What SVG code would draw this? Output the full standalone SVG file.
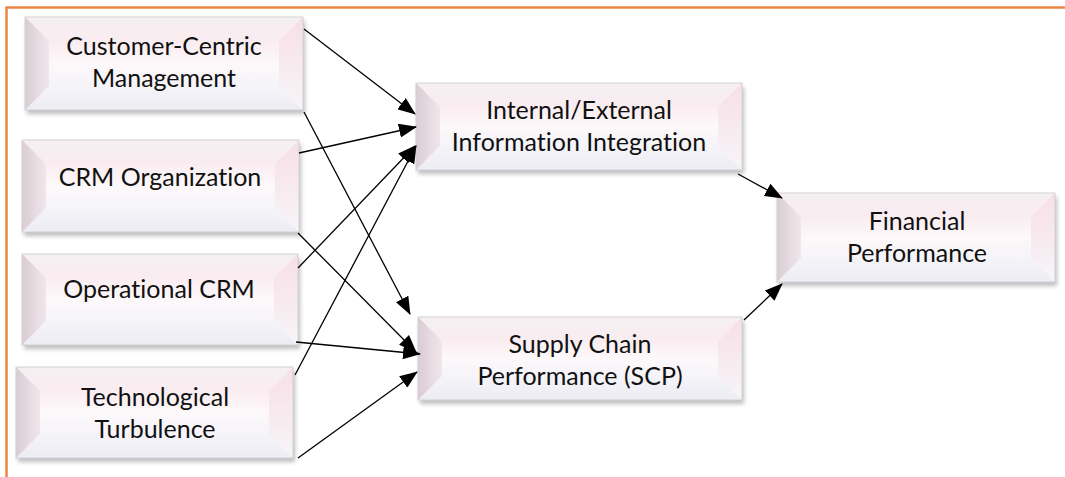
<svg xmlns="http://www.w3.org/2000/svg" width="1065" height="477" viewBox="0 0 1065 477">
  <style>
    .lbl { font-family: Lato, "Liberation Sans", sans-serif; font-size: 25px; fill: #111; text-anchor: middle; font-variant-ligatures: none; }
    .face { fill: url(#faceGrad); }
    .bt { fill: url(#topGrad); }
    .bb { fill: url(#botGrad); }
    .bl { fill: url(#leftGrad); }
    .br { fill: url(#rightGrad); }
    .edge { fill: none; stroke: #d2d2d8; stroke-width: 1; }
    .shadow { fill: #8a8a8a; filter: url(#blur); opacity: 0.55; }
    .conn line { stroke: #000; stroke-width: 1.3; marker-end: url(#arrow); }
  </style>
  <defs>
    <linearGradient id="faceGrad" x1="0" y1="0" x2="0" y2="1">
      <stop offset="0" stop-color="#f9eaef"/>
      <stop offset="0.5" stop-color="#fdf8fa"/>
      <stop offset="1" stop-color="#f3f3f9"/>
    </linearGradient>
    <linearGradient id="topGrad" x1="0" y1="0" x2="0" y2="1">
      <stop offset="0" stop-color="#f5f0f3"/>
      <stop offset="1" stop-color="#f9ecf0"/>
    </linearGradient>
    <linearGradient id="botGrad" x1="0" y1="0" x2="0" y2="1">
      <stop offset="0" stop-color="#f4f4f9"/>
      <stop offset="1" stop-color="#ececf3"/>
    </linearGradient>
    <linearGradient id="leftGrad" x1="0" y1="0" x2="1" y2="0">
      <stop offset="0" stop-color="#d9ccd3"/>
      <stop offset="1" stop-color="#f1e7eb"/>
    </linearGradient>
    <linearGradient id="rightGrad" x1="0" y1="0" x2="0" y2="1">
      <stop offset="0" stop-color="#f7dfe5"/>
      <stop offset="1" stop-color="#f7f5f8"/>
    </linearGradient>
    <filter id="blur" x="-10%" y="-20%" width="120%" height="140%">
      <feGaussianBlur stdDeviation="2"/>
    </filter>
    <marker id="arrow" markerWidth="18" markerHeight="14" refX="17" refY="7" orient="auto" markerUnits="userSpaceOnUse">
      <path d="M0,0 L18,7 L0,14 Z" fill="#000"/>
    </marker>
  </defs>

  <rect x="0" y="0" width="1065" height="477" fill="#fff"/>
  <!-- outer frame -->
  <rect x="6.5" y="7.5" width="1080" height="490" fill="none" stroke="#ed8544" stroke-width="2.5"/>

  <!-- Customer-Centric Management -->
  <g id="customer-centric">
    <rect class="shadow" x="27" y="21" width="278" height="93"/>
    <rect class="face" x="25" y="17" width="278" height="93"/>
    <polygon class="bt" points="25,17 303,17 279,41 49,41"/>
    <polygon class="bb" points="25,110 303,110 279,86 49,86"/>
    <polygon class="bl" points="25,17 49,41 49,86 25,110"/>
    <polygon class="br" points="303,17 279,41 279,86 303,110"/>
    <rect class="face" x="49" y="41" width="230" height="45" opacity="0.6"/>
    <rect class="edge" x="25" y="17" width="278" height="93"/>
    <text class="lbl" x="164" y="55">Customer-Centric</text>
    <text class="lbl" x="164" y="87">Management</text>
  </g>

  <!-- CRM Organization -->
  <g id="crm-organization">
    <rect class="shadow" x="24" y="144" width="277" height="92"/>
    <rect class="face" x="22" y="140" width="277" height="92"/>
    <polygon class="bt" points="22,140 299,140 275,164 46,164"/>
    <polygon class="bb" points="22,232 299,232 275,208 46,208"/>
    <polygon class="bl" points="22,140 46,164 46,208 22,232"/>
    <polygon class="br" points="299,140 275,164 275,208 299,232"/>
    <rect class="face" x="46" y="164" width="229" height="44" opacity="0.6"/>
    <rect class="edge" x="22" y="140" width="277" height="92"/>
    <text class="lbl" x="160" y="186">CRM Organization</text>
  </g>

  <!-- Operational CRM -->
  <g id="operational-crm">
    <rect class="shadow" x="24" y="258" width="276" height="91"/>
    <rect class="face" x="22" y="254" width="276" height="91"/>
    <polygon class="bt" points="22,254 298,254 274,278 46,278"/>
    <polygon class="bb" points="22,345 298,345 274,321 46,321"/>
    <polygon class="bl" points="22,254 46,278 46,321 22,345"/>
    <polygon class="br" points="298,254 274,278 274,321 298,345"/>
    <rect class="face" x="46" y="278" width="228" height="43" opacity="0.6"/>
    <rect class="edge" x="22" y="254" width="276" height="91"/>
    <text class="lbl" x="159" y="298">Operational CRM</text>
  </g>

  <!-- Technological Turbulence -->
  <g id="technological-turbulence">
    <rect class="shadow" x="18" y="371" width="277" height="91"/>
    <rect class="face" x="16" y="367" width="277" height="91"/>
    <polygon class="bt" points="16,367 293,367 269,391 40,391"/>
    <polygon class="bb" points="16,458 293,458 269,434 40,434"/>
    <polygon class="bl" points="16,367 40,391 40,434 16,458"/>
    <polygon class="br" points="293,367 269,391 269,434 293,458"/>
    <rect class="face" x="40" y="391" width="229" height="43" opacity="0.6"/>
    <rect class="edge" x="16" y="367" width="277" height="91"/>
    <text class="lbl" x="155" y="406">Technological</text>
    <text class="lbl" x="155" y="438">Turbulence</text>
  </g>

  <!-- Internal/External Information Integration -->
  <g id="info-integration">
    <rect class="shadow" x="418" y="87" width="326" height="87"/>
    <rect class="face" x="416" y="83" width="326" height="87"/>
    <polygon class="bt" points="416,83 742,83 718,107 440,107"/>
    <polygon class="bb" points="416,170 742,170 718,146 440,146"/>
    <polygon class="bl" points="416,83 440,107 440,146 416,170"/>
    <polygon class="br" points="742,83 718,107 718,146 742,170"/>
    <rect class="face" x="440" y="107" width="278" height="39" opacity="0.6"/>
    <rect class="edge" x="416" y="83" width="326" height="87"/>
    <text class="lbl" x="579" y="119">Internal/External</text>
    <text class="lbl" x="579" y="151">Information Integration</text>
  </g>

  <!-- Supply Chain Performance -->
  <g id="supply-chain">
    <rect class="shadow" x="420" y="321" width="324" height="83"/>
    <rect class="face" x="418" y="317" width="324" height="83"/>
    <polygon class="bt" points="418,317 742,317 718,341 442,341"/>
    <polygon class="bb" points="418,400 742,400 718,376 442,376"/>
    <polygon class="bl" points="418,317 442,341 442,376 418,400"/>
    <polygon class="br" points="742,317 718,341 718,376 742,400"/>
    <rect class="face" x="442" y="341" width="276" height="35" opacity="0.6"/>
    <rect class="edge" x="418" y="317" width="324" height="83"/>
    <text class="lbl" x="580" y="353">Supply Chain</text>
    <text class="lbl" x="580" y="385">Performance (SCP)</text>
  </g>

  <!-- Financial Performance -->
  <g id="financial-performance">
    <rect class="shadow" x="779" y="197" width="278" height="89"/>
    <rect class="face" x="777" y="193" width="278" height="89"/>
    <polygon class="bt" points="777,193 1055,193 1031,217 801,217"/>
    <polygon class="bb" points="777,282 1055,282 1031,258 801,258"/>
    <polygon class="bl" points="777,193 801,217 801,258 777,282"/>
    <polygon class="br" points="1055,193 1031,217 1031,258 1055,282"/>
    <rect class="face" x="801" y="217" width="230" height="41" opacity="0.6"/>
    <rect class="edge" x="777" y="193" width="278" height="89"/>
    <text class="lbl" x="917" y="230">Financial</text>
    <text class="lbl" x="917" y="262">Performance</text>
  </g>

  <!-- connectors -->
  <g id="connectors" class="conn">
    <line x1="304" y1="29" x2="415" y2="114"/>
    <line x1="299" y1="153" x2="416" y2="127"/>
    <line x1="298" y1="268" x2="415" y2="146"/>
    <line x1="295" y1="375" x2="416" y2="146"/>
    <line x1="304" y1="112" x2="410" y2="314"/>
    <line x1="298" y1="233" x2="416" y2="352"/>
    <line x1="296" y1="342" x2="420" y2="354"/>
    <line x1="298" y1="458" x2="417" y2="372"/>
    <line x1="738" y1="174" x2="782" y2="198"/>
    <line x1="744" y1="320" x2="782" y2="284"/>
  </g>
</svg>
